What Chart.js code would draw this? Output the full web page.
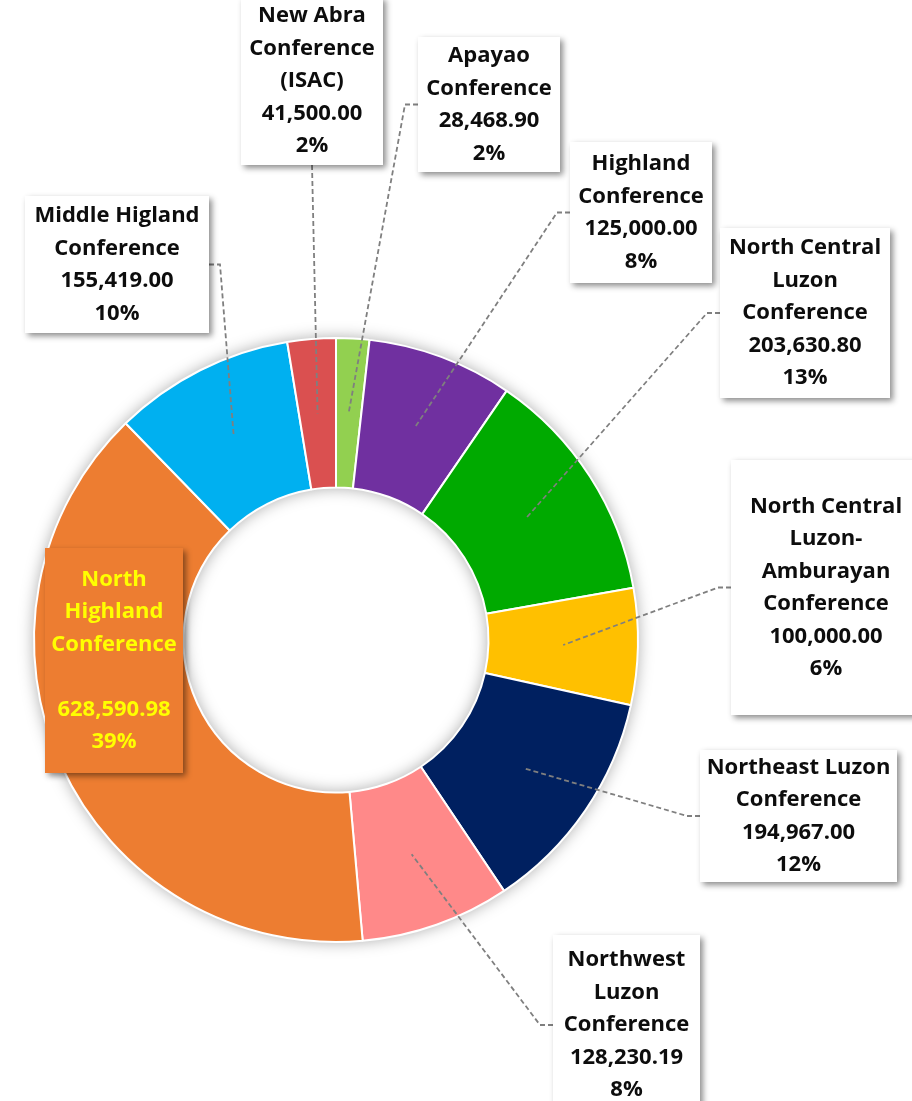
<!DOCTYPE html>
<html><head><meta charset="utf-8">
<script src="https://cdn.jsdelivr.net/npm/chart.js@4"></script>
<style>html,body{margin:0;padding:0;background:#fff;}#wrap{width:912px;height:1101px;position:relative;}</style>
</head><body><div id="wrap"><canvas id="c"></canvas></div>
<script>
// ---- data (clockwise from 12 o'clock) ----
const categories = ['Apayao Conference','Highland Conference','North Central Luzon Conference','North Central Luzon-Amburayan Conference','Northeast Luzon Conference','Northwest Luzon Conference','North Highland Conference','Middle Higland Conference','New Abra Conference (ISAC)'];
const values = [28468.90,125000.00,203630.80,100000.00,194967.00,128230.19,628590.98,155419.00,41500.00];
const percentLabels = ['2%','8%','13%','6%','12%','8%','39%','10%','2%'];
const nameLines = [
  ['Apayao','Conference'],
  ['Highland','Conference'],
  ['North Central','Luzon','Conference'],
  ['North Central','Luzon-','Amburayan','Conference'],
  ['Northeast Luzon','Conference'],
  ['Northwest','Luzon','Conference'],
  ['North','Highland','Conference',''],
  ['Middle Higland','Conference'],
  ['New Abra','Conference','(ISAC)']
];
const colors = ['#92D050','#7030A0','#00AA00','#FFC000','#002060','#FF8989','#ED7D31','#00B0F0','#DA5050'];

// ---- label box layout (pixels) ----
const boxLayout = [
  {x:418,y:37,w:142,h:135,attach:'left'},
  {x:570,y:142,w:142,h:141,attach:'left'},
  {x:720,y:228,w:170,h:170,attach:'left'},
  {x:731,y:460,w:190,h:255,attach:'left'},
  {x:700,y:750,w:197,h:132,attach:'left'},
  {x:553,y:935,w:147,h:180,attach:'left'},
  {x:45,y:548,w:138,h:225,attach:null,fill:'#ED7D31',text:'#FFFF00'},
  {x:25,y:196,w:184,h:137,attach:'right'},
  {x:241,y:-3,w:142,h:168,attach:'bottom'}
];

const fmt = v => v.toLocaleString('en-US',{minimumFractionDigits:2,maximumFractionDigits:2});

const ringShadow = {
  id:'ringShadow',
  beforeDatasetsDraw(chart){
    const a = chart.getDatasetMeta(0).data[0]; if(!a) return;
    const p = a.getProps(['x','y','outerRadius','innerRadius'], true);
    const ctx = chart.ctx; ctx.save();
    ctx.beginPath(); ctx.arc(p.x,p.y,p.outerRadius,0,Math.PI*2); ctx.arc(p.x,p.y,p.innerRadius,0,Math.PI*2,true);
    ctx.shadowColor='rgba(0,0,0,0.35)'; ctx.shadowBlur=16; ctx.fillStyle='#fff'; ctx.fill(); ctx.restore();
  }
};

const calloutLabels = {
  id:'calloutLabels',
  afterDatasetsDraw(chart){
    const ctx = chart.ctx; const meta = chart.getDatasetMeta(0);
    const LH = 32.5;
    meta.data.forEach((arc,i)=>{
      const b = boxLayout[i]; if(!b.attach) return;
      const p = arc.getProps(['x','y','startAngle','endAngle','innerRadius','outerRadius'], true);
      const mid = (p.startAngle+p.endAngle)/2, r = (p.innerRadius+p.outerRadius)/2;
      const ax = p.x+Math.cos(mid)*r, ay = p.y+Math.sin(mid)*r;
      const pts = [];
      if(b.attach==='left'){ const cy=b.y+b.h/2; pts.push([b.x,cy],[b.x-13,cy]); }
      else if(b.attach==='right'){ const cy=b.y+b.h/2; pts.push([b.x+b.w,cy],[b.x+b.w+11,cy]); }
      else { pts.push([b.x+b.w/2,b.y+b.h]); }
      pts.push([ax,ay]);
      ctx.save(); ctx.strokeStyle='#7F7F7F'; ctx.lineWidth=1.8; ctx.setLineDash([5,3]);
      ctx.beginPath(); ctx.moveTo(pts[0][0],pts[0][1]); for(let k=1;k<pts.length;k++) ctx.lineTo(pts[k][0],pts[k][1]); ctx.stroke(); ctx.restore();
    });
    meta.data.forEach((arc,i)=>{
      const b = boxLayout[i];
      ctx.save();
      ctx.shadowColor='rgba(0,0,0,0.45)'; ctx.shadowBlur=6; ctx.shadowOffsetX=3; ctx.shadowOffsetY=3;
      ctx.fillStyle=b.fill||'#fff'; ctx.fillRect(b.x,b.y,b.w,b.h); ctx.restore();
      const lines = nameLines[i].concat([fmt(values[i]), percentLabels[i]]);
      ctx.save(); ctx.fillStyle=b.text||'#0D0D0D'; ctx.font='bold 22px "Open Sans"'; ctx.textAlign='center'; ctx.textBaseline='middle';
      const cx=b.x+b.w/2, cy=b.y+b.h/2; const y0 = cy-(lines.length-1)*LH/2;
      lines.forEach((t,k)=>ctx.fillText(t,cx,y0+k*LH));
      ctx.restore();
    });
  }
};

new Chart(document.getElementById('c'),{
  type:'doughnut',
  data:{labels:categories,datasets:[{data:values,backgroundColor:colors,borderColor:'#fff',borderWidth:2}]},
  options:{
    responsive:true,maintainAspectRatio:false,animation:false,cutout:'50.5%',
    layout:{padding:{left:33,right:273,top:337,bottom:158}},
    plugins:{legend:{display:false},tooltip:{enabled:false}}
  },
  plugins:[ringShadow,calloutLabels]
});
</script></body></html>
